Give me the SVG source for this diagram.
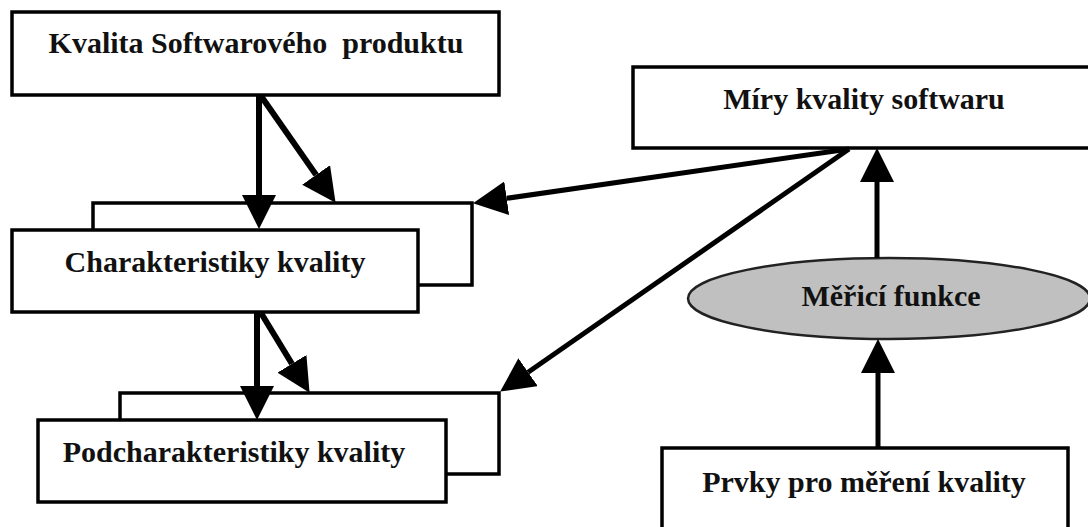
<svg xmlns="http://www.w3.org/2000/svg" width="1088" height="527" viewBox="0 0 1088 527">
<style>
.box{fill:#fff;stroke:#000;stroke-width:3.5}
.lbl{font-family:"Liberation Serif","Times New Roman",serif;font-weight:bold;font-size:30px;fill:#111;text-anchor:middle;white-space:pre}
.thick{stroke:#000;stroke-width:6;fill:none}
.mid{stroke:#000;stroke-width:5;fill:none}
</style>
<defs>
<marker id="ah" markerUnits="userSpaceOnUse" viewBox="0 0 34 34" refX="0" refY="17" markerWidth="34" markerHeight="34" orient="auto">
<path d="M0,0 L34,17 L0,34 z" fill="#000"/>
</marker>
</defs>
<rect width="1088" height="527" fill="#fff"/>
<g id="kvalita">
<rect class="box" x="12" y="12" width="487" height="83"/>
<text class="lbl" x="256" y="53" xml:space="preserve">Kvalita Softwarového  produktu</text>
</g>
<g id="charakteristiky">
<rect class="box" x="93" y="203" width="379" height="82"/>
<rect class="box" x="12" y="230" width="406" height="82"/>
<text class="lbl" x="215" y="272">Charakteristiky kvality</text>
</g>
<g id="podcharakteristiky">
<rect class="box" x="120" y="393" width="379" height="81"/>
<rect class="box" x="38" y="420" width="408" height="82"/>
<text class="lbl" x="234" y="462">Podcharakteristiky kvality</text>
</g>
<g id="miry">
<rect class="box" x="633" y="67" width="470" height="81"/>
<text class="lbl" x="864" y="109">Míry kvality softwaru</text>
</g>
<g id="merici">
<ellipse cx="889" cy="298.5" rx="201" ry="40.5" fill="#c0c0c0" stroke="#222" stroke-width="2.5"/>
<text class="lbl" x="891" y="306">Měřicí funkce</text>
</g>
<g id="prvky">
<rect class="box" x="662" y="448" width="406" height="90"/>
<text class="lbl" x="864" y="492">Prvky pro měření kvality</text>
</g>
<g id="connectors">
<line class="thick" x1="259" y1="95" x2="259" y2="195" marker-end="url(#ah)"/>
<line class="thick" x1="261" y1="96" x2="316.1" y2="174.9" marker-end="url(#ah)"/>
<line class="thick" x1="257" y1="312" x2="257" y2="386" marker-end="url(#ah)"/>
<line class="thick" x1="261" y1="313" x2="291.9" y2="363.8" marker-end="url(#ah)"/>
<line class="mid" x1="849" y1="149" x2="506.7" y2="198.3" marker-end="url(#ah)"/>
<line class="mid" x1="849" y1="149" x2="528.1" y2="372.2" marker-end="url(#ah)"/>
<line class="mid" x1="877" y1="258" x2="877" y2="182" marker-end="url(#ah)"/>
<line class="mid" x1="878" y1="448" x2="878" y2="373" marker-end="url(#ah)"/>
</g>
</svg>
